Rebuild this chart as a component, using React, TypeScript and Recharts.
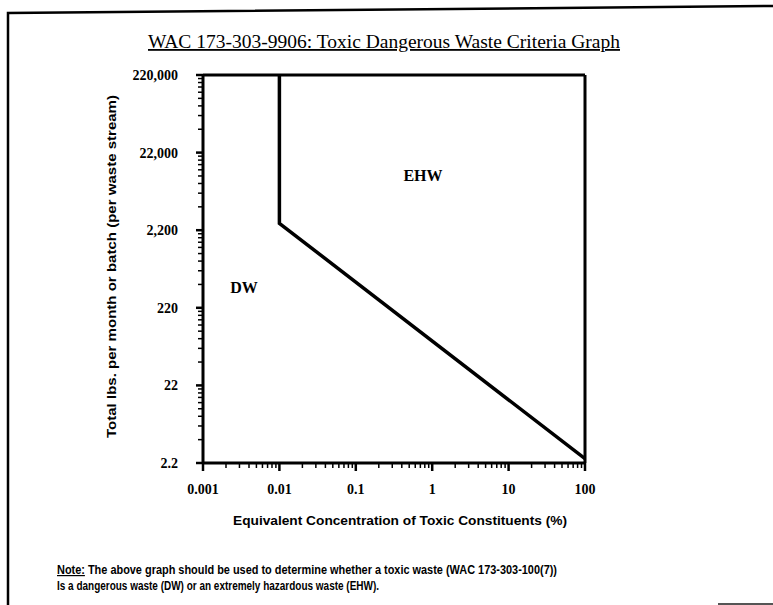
import React from 'react';
import { LineChart, Line, XAxis, YAxis, ReferenceLine } from 'recharts';

// Boundary between DW and EHW regions
const boundaryConcentration = [0.01, 0.01, 100];
const boundaryLbs = [220000, 2700, 2.5];

// Axis ticks
const xMajorTicks = [0.001, 0.01, 0.1, 1, 10, 100];
const xMajorLabels = ['0.001', '0.01', '0.1', '1', '10', '100'];
const yMajorTicks = [2.2, 22, 220, 2200, 22000, 220000];
const yMajorLabels = ['2.2', '22', '220', '2,200', '22,000', '220,000'];
const minorMultipliers = [2, 3, 4, 5, 6, 7, 8, 9];

const titleText = 'WAC 173-303-9906: Toxic Dangerous Waste Criteria Graph';
const xAxisTitle = 'Equivalent Concentration of Toxic Constituents (%)';
const yAxisTitle = 'Total lbs. per month or batch (per waste stream)';
const noteLabel = 'Note:';
const noteLine1 = ' The above graph should be used to determine whether a toxic waste (WAC 173-303-100(7))';
const noteLine2 = 'Is a dangerous waste (DW) or an extremely hazardous waste (EHW).';
const regionUpper = 'EHW';
const regionLower = 'DW';

const data = boundaryConcentration.map((x, i) => ({ x, y: boundaryLbs[i] }));

const withMinors = (majors: number[]) => {
  const out: number[] = [];
  majors.forEach((m, i) => {
    out.push(m);
    if (i < majors.length - 1) minorMultipliers.forEach((k) => out.push(m * k));
  });
  return out;
};
const xTicks = withMinors(xMajorTicks);
const yTicks = withMinors(yMajorTicks);

const tickFont = '"Liberation Serif", serif';
const labelFont = '"Liberation Sans", Arial, sans-serif';

const XTick = (props: any) => {
  const { x, y, payload } = props;
  const idx = xMajorTicks.indexOf(payload.value);
  const major = idx >= 0;
  return (
    <g>
      <line x1={x} x2={x} y1={y} y2={y + (major ? 8 : 5)} stroke="#000" strokeWidth={major ? 2.5 : 1.5} />
      {major && (
        <text x={x} y={y + 31} textAnchor="middle" fontFamily={tickFont} fontWeight="bold" fontSize={14} fill="#000">
          {xMajorLabels[idx]}
        </text>
      )}
    </g>
  );
};

const YTick = (props: any) => {
  const { x, y, payload } = props;
  const idx = yMajorTicks.indexOf(payload.value);
  const major = idx >= 0;
  return (
    <g>
      <line x1={x} x2={x - (major ? 7 : 5)} y1={y} y2={y} stroke="#000" strokeWidth={major ? 2.5 : 1.5} />
      {major && (
        <text x={x - 25} y={y + 5} textAnchor="end" fontFamily={tickFont} fontWeight="bold" fontSize={14} fill="#000">
          {yMajorLabels[idx]}
        </text>
      )}
    </g>
  );
};

export default function App() {
  return (
    <div style={{ position: 'absolute', left: 0, top: 0, width: 773, height: 605, background: '#fff' }}>
      <LineChart
        width={773}
        height={605}
        data={data}
        margin={{ top: 75, right: 188, bottom: 82, left: 103 }}
      >
        <XAxis
          dataKey="x"
          type="number"
          scale="log"
          domain={[0.001, 100]}
          allowDataOverflow
          ticks={xTicks}
          interval={0}
          height={60}
          tickSize={0}
          tickMargin={0}
          tickLine={false}
          axisLine={{ stroke: '#000', strokeWidth: 3 }}
          tick={<XTick />}
        />
        <YAxis
          dataKey="y"
          type="number"
          scale="log"
          domain={[2.2, 220000]}
          allowDataOverflow
          ticks={yTicks}
          interval={0}
          width={100}
          tickSize={0}
          tickMargin={0}
          tickLine={false}
          axisLine={{ stroke: '#000', strokeWidth: 3 }}
          tick={<YTick />}
        />
        <ReferenceLine y={220000} stroke="#000" strokeWidth={3} ifOverflow="visible" />
        <ReferenceLine x={100} stroke="#000" strokeWidth={3} ifOverflow="visible" />
        <Line
          type="linear"
          dataKey="y"
          stroke="#000"
          strokeWidth={3.5}
          dot={false}
          isAnimationActive={false}
        />
      </LineChart>
      <svg
        width={773}
        height={605}
        style={{ position: 'absolute', left: 0, top: 0, pointerEvents: 'none' }}
      >
        <path d="M8 605 L8 13 L773 6" fill="none" stroke="#000" strokeWidth={2.5} />
        <line x1={718} x2={773} y1={604} y2={604} stroke="#555" strokeWidth={2} />
        <text
          x={148}
          y={48}
          fontFamily={tickFont}
          fontSize={18}
          textLength={472}
          lengthAdjust="spacingAndGlyphs"
          textDecoration="underline"
          fill="#000"
        >
          {titleText}
        </text>
        <text
          x={423}
          y={181}
          textAnchor="middle"
          fontFamily={tickFont}
          fontWeight="bold"
          fontSize={16}
          fill="#000"
        >
          {regionUpper}
        </text>
        <text
          x={244}
          y={293}
          textAnchor="middle"
          fontFamily={tickFont}
          fontWeight="bold"
          fontSize={16}
          fill="#000"
        >
          {regionLower}
        </text>
        <text
          x={233}
          y={525}
          fontFamily={labelFont}
          fontWeight="bold"
          fontSize={13}
          textLength={334}
          lengthAdjust="spacingAndGlyphs"
          fill="#000"
        >
          {xAxisTitle}
        </text>
        <text
          x={0}
          y={0}
          transform="translate(116 438) rotate(-90)"
          fontFamily={labelFont}
          fontWeight="bold"
          fontSize={13}
          textLength={343}
          lengthAdjust="spacingAndGlyphs"
          fill="#000"
        >
          {yAxisTitle}
        </text>
        <text x={57} y={574} fontFamily={labelFont} fontWeight="bold" fontSize={12} textLength={500} lengthAdjust="spacingAndGlyphs" fill="#000">
          <tspan textDecoration="underline">{noteLabel}</tspan>
          <tspan>{noteLine1}</tspan>
        </text>
        <text x={57} y={590} fontFamily={labelFont} fontWeight="bold" fontSize={12} textLength={322} lengthAdjust="spacingAndGlyphs" fill="#000">
          {noteLine2}
        </text>
      </svg>
    </div>
  );
}
